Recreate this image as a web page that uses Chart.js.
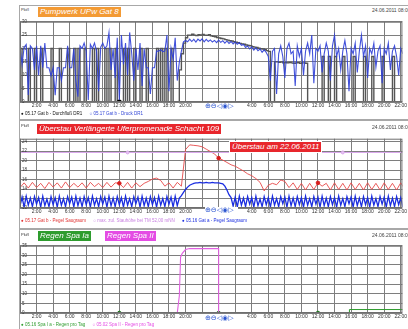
<!DOCTYPE html>
<html>
<head>
<meta charset="utf-8">
<script src="https://cdn.jsdelivr.net/npm/chart.js@4.4.0/dist/chart.umd.min.js"></script>
<style>
html, body { margin: 0; padding: 0; background: #fff; width: 408px; height: 329px; overflow: hidden;
  font-family: "Liberation Sans", Arial, sans-serif; }
.hline { position: absolute; left: 19px; width: 389px; background: #a8a8a8; }
.vline { position: absolute; left: 19px; width: 1px; background: #a8a8a8; }
.tag { position: absolute; color: #fff; font-style: italic; font-size: 8px; line-height: 10px; height: 10px; padding: 0 2px; white-space: nowrap; }
.unit { position: absolute; left: 21px; font-size: 4px; color: #333; }
.date { position: absolute; left: 372px; font-size: 5px; color: #444; white-space: nowrap; }
.legend { position: absolute; left: 21px; font-size: 4.5px; white-space: nowrap; }
.legend span { margin-right: 6px; }
.zoomico { position: absolute; left: 205px; width: 33px; font-size: 7px; line-height: 7px; color: #2b55d0; background: #fff;
  font-family: "DejaVu Sans", sans-serif; white-space: nowrap; }
.box { position: absolute; left: 19px; width: 389px; }
</style>
</head>
<body>
<!-- frames -->
<div class="hline" style="top:5px;height:1px"></div>
<div class="hline" style="top:119px;height:2px"></div>
<div class="hline" style="top:228px;height:2px"></div>
<div class="vline" style="top:5px;height:324px"></div>

<!-- panel 1 -->
<div class="unit" style="top:7px">Pkt/l</div>
<div class="tag" style="left:38px;top:7px;background:#f39a34">Pumpwerk UPw Gat 8</div>
<div class="date" style="top:7px">24.06.2011 08:00</div>
<div class="box" style="top:17px;height:93px"><canvas id="pumpChart"></canvas></div>
<div class="zoomico" style="top:103px">&#8853;&#8854;&#9665;&#9673;&#9655;</div>
<div class="legend" style="top:111px">
  <span style="color:#111">&#9679; 05.17 Gat b - Durchflu&szlig; DR1</span>
  <span style="color:#3346d6">&#9675; 05.17 Gat b - Druck DR1</span>
</div>

<!-- panel 2 -->
<div class="unit" style="top:123px">Pkt/l</div>
<div class="tag" style="left:37px;top:124px;background:#e8262c">&Uuml;berstau Verl&auml;ngerte Uferpromenade Schacht 109</div>
<div class="date" style="top:124px">24.06.2011 08:00</div>
<div class="box" style="top:134px;height:82px"><canvas id="levelChart"></canvas></div>
<div class="tag" style="left:230px;top:142px;background:#e8262c;outline:1px solid #fff">&Uuml;berstau am 22.06.2011</div>
<div class="zoomico" style="top:207px">&#8853;&#8854;&#9665;&#9673;&#9655;</div>
<div class="legend" style="top:218px">
  <span style="color:#e03030">&#9679; 05.17 Gat b - Pegel Saugraum</span>
  <span style="color:#c77ee0">&#9675; max. zul. Stauh&ouml;he bei TM 52,00 mNN</span>
  <span style="color:#1a2de0">&#9679; 05.16 Gat a - Pegel Saugraum</span>
</div>

<!-- panel 3 -->
<div class="unit" style="top:232px">Pkt/l</div>
<div class="tag" style="left:38px;top:231px;background:#2e9c2e">Regen Spa Ia</div>
<div class="tag" style="left:105px;top:231px;background:#e44ce4">Regen Spa II</div>
<div class="date" style="top:232px">24.06.2011 08:00</div>
<div class="box" style="top:241px;height:80px"><canvas id="rainChart"></canvas></div>
<div class="zoomico" style="top:315px">&#8853;&#8854;&#9665;&#9673;&#9655;</div>
<div class="legend" style="top:322px">
  <span style="color:#2e9c2e">&#9679; 05.16 Spa I a - Regen pro Tag</span>
  <span style="color:#e44ce4">&#9675; 05.02 Spa II - Regen pro Tag</span>
</div>

<script>
// time axis: hours since 22.06 0:00, two days, right end cut off
const X_MAX = 46.2;
const HIDDEN_TICKS = [0, 22, 24, 26];
const MARK_HOURS = [12, 24, 36];
const FLOW_MARK_HOURS = [12];

// panel 1, every 15 min
const flowDR1 = [
  0,20,0,0,0,20,0,0,20,0,
  0,20,0,0,0,0,20,0,0,0,
  20,0,0,0,20,0,0,20,0,20,
  0,0,20,0,0,0,20,0,20,0,
  0,0,20,0,20,0,0,20,0,0,
  0,20,0,20,0,0,20,0,0,20,
  0,0,20,0,0,0,0,20,0,20,
  0,20,0,0,20,0,0,0,12,18,
  22,24,25,25,25.3,25,24.8,25.1,25,25.2,
  25,24.9,25.1,24.7,24.5,24.4,24.1,23.9,23.7,23.6,
  23.3,23.1,22.9,22.8,22.5,22.3,22.2,21.9,21.7,21.6,
  21.3,21.1,21,20.7,20.5,20.4,20.1,19.9,19.8,19.5,
  19.2,18.9,0,0,15,15,14.8,15,14.6,14.7,
  14.6,14.8,14.6,14.5,14.6,14.7,14.5,14.6,14.6,14.5,
  0,0,0,0,0,0,0,17,0,0,
  17,0,0,17,0,0,0,17,0,0,
  0,0,17,0,0,0,0,17,0,0,
  0,17,0,0,0,0,17,0,0,0,
  0,17,0,0,0,0,17
];
const pressureDR1 = [
  21,14,20.5,21.5,2.6,21,20,12,21,10,
  21,12.8,22,12.8,12.8,9.8,12.8,2.5,12.8,12.8,
  8,12.8,12.8,21,12.8,12.8,20,8,2,21,
  20,22,19,0.8,21.5,20,22,19,4,20.5,
  22,20,21,26,12,20,9,24,0.8,25,
  14,22,10,26,18,8,20,12,22,6,
  20,12.8,12.8,3,12.8,12.8,19,19,19.5,18.8,
  19,25,4,20,16,24,8,15,19,22.5,
  23,22.5,23.5,22.6,23.4,22.4,23.5,22.8,23.6,22.5,
  23.4,22.6,23.2,22.4,23,22.2,23.1,22.3,22.9,22,
  22.8,21.9,22.6,21.7,22.4,21.6,22.2,21.2,21.5,20.4,
  20.9,19.8,20.6,19.4,20.2,19.2,19.8,18.6,19.5,18.5,
  17,8,19,20,3,18,21,17,9,20,
  22,18,19,6,21,17,20,10,19,22,
  18,25,7,20,19,21,11,18,22,19,
  8,21,25,17,20,12,19,23,18,4,
  20,18,22,11,19,25,17,21,9,20,
  18,22,13,19,21,7,20,18,22,12,
  19,21,17,10,20,18,21
];

// panel 2
const levelGatB = [ // every 30 min
  14.3,15.3,14.2,15.4,14.3,15.2,14.1,15.4,14.4,15.3,
  14.2,15.5,14.3,15.2,14.4,15.3,14.2,15.4,14.5,15.2,
  14.3,15.4,14.4,15.3,15.2,14.3,15.4,14.2,15.3,14.5,
  15.2,15.6,16.1,16.3,15.8,14.6,15.3,14.2,15.4,14.6,
  22.3,23.3,23.2,23.1,22.9,22.4,21.9,21.4,20.5,20.1,
  19.6,19.1,18.8,18.3,17.8,17.2,16.8,16.2,15.4,13.6,
  14.8,15.2,14.9,15.9,15.6,14.3,15.3,13.9,15.2,13.8,
  15.2,13.9,15.3,14.6,15.2,13.8,15.3,13.9,15.2,13.8,
  15.3,13.9,15.2,13.8,15.3,13.9,15.2,13.8,15.3,13.9,
  15.2,13.8,15.3,13.9
];
const maxLevelHours = [0, 13, 39, 46.5];
const maxLevelValues = [21.7, 21.7, 21.7, 21.7];
const levelGatA = [ // every 15 min
  10.4,12.3,10.2,12.5,10.6,12.1,10.3,12.4,10.8,12.2,
  10.2,12.5,10.5,11.9,10.3,12.4,10.7,12.2,10.2,12.5,
  10.6,12.0,10.3,12.4,10.9,12.3,10.2,12.5,10.5,12.1,
  10.3,12.4,10.7,12.2,10.2,12.5,10.6,12.0,10.3,12.4,
  10.8,12.3,10.2,12.5,10.5,12.1,10.3,12.4,10.7,12.2,
  10.2,12.5,10.6,12.0,10.3,12.4,10.9,12.3,10.2,12.5,
  10.5,12.1,10.3,12.4,10.7,12.2,10.2,12.5,10.6,12.0,
  10.3,12.4,10.8,12.3,10.2,12.5,10.5,12.1,12.6,13.3,
  13.9,14.4,14.8,15.0,15.2,15.3,15.3,15.4,15.3,15.3,
  15.4,15.3,15.3,15.4,15.3,15.3,15.3,15.2,15.1,14.6,
  13.8,12.8,12.2,10.4,12.3,10.2,12.5,10.6,12.1,10.3,
  12.4,10.8,12.2,10.2,12.5,10.5,11.9,10.3,12.4,10.7,
  12.2,10.2,12.5,10.6,12.0,10.3,12.4,10.9,12.3,10.2,
  12.5,10.5,12.1,10.3,12.4,10.7,12.2,10.2,12.5,10.6,
  12.0,10.3,12.4,10.8,12.3,10.2,12.5,10.5,12.1,10.3,
  12.4,10.7,12.2,10.2,12.5,10.6,12.0,10.3,12.4,10.9,
  12.3,10.2,12.5,10.5,12.1,10.3,12.4,10.7,12.2,10.2,
  12.5,10.6,12.0,10.3,12.4,10.8,12.3,10.2,12.5,10.5,
  12.1,10.3,12.4,10.7,12.2,10.2,12.5
];

// panel 3
const rainIaHours = [0, 12, 24, 36, 39.8, 39.8, 46.5];
const rainIaValues = [0, 0, 0, 0, 0, 1.8, 1.8];
const rainIIHours = [0, 19, 19.25, 19.4, 19.6, 20, 20.5, 24, 24, 46.5];
const rainIIValues = [0, 0, 9, 29, 31, 33, 33.5, 33.5, 0, 0];

function series(values, step) {
  return values.map((v, i) => ({ x: i * step, y: v }));
}
function pairs(hours, values) {
  return hours.map((h, i) => ({ x: h, y: values[i] }));
}
const markAt = hours => ctx => (ctx.raw && hours.includes(ctx.raw.x) ? 1.8 : 0);

// thin frame round the plot area
const plotFrame = {
  id: 'plotFrame',
  afterDraw(chart) {
    const { ctx, chartArea: a } = chart;
    ctx.save();
    ctx.strokeStyle = '#6e6e6e';
    ctx.lineWidth = 1;
    ctx.strokeRect(a.left + 0.5, a.top + 0.5, a.width - 1, a.height - 1);
    ctx.restore();
  }
};

function timeChart(id, datasets, yMin, yMax, yStep) {
  return new Chart(document.getElementById(id), {
    type: 'line',
    data: { datasets },
    options: {
      animation: false,
      responsive: true,
      maintainAspectRatio: false,
      layout: { padding: { left: 1, right: 0, top: 3, bottom: 0 } },
      plugins: { legend: { display: false }, tooltip: { enabled: false } },
      elements: { line: { tension: 0 }, point: { radius: 0 } },
      scales: {
        x: {
          type: 'linear', min: 0, max: X_MAX,
          afterFit: s => { s.height = 8; },
          border: { display: false },
          grid: { color: '#7e7e7e', lineWidth: 1, drawTicks: false },
          ticks: {
            stepSize: 2, autoSkip: false, includeBounds: false, padding: 1, maxRotation: 0,
            color: '#333', font: { size: 5, family: 'Liberation Sans' },
            callback: v => (HIDDEN_TICKS.includes(v) ? '' : (v % 24) + ':00')
          }
        },
        y: {
          min: yMin, max: yMax,
          afterFit: s => { s.width = 0; },
          border: { display: false },
          grid: { color: '#7e7e7e', lineWidth: 1, drawTicks: false },
          ticks: {
            stepSize: yStep, includeBounds: false, mirror: true, padding: 2,
            color: '#333', font: { size: 4.5, family: 'Liberation Sans' }
          }
        }
      }
    },
    plugins: [plotFrame]
  });
}

timeChart('pumpChart', [
  {
    label: '05.17 Gat b - Druck DR1', data: series(pressureDR1, 0.25),
    borderColor: 'rgba(45,62,214,0.9)', borderWidth: 1.1
  },
  {
    label: '05.17 Gat b - Durchfluß DR1', data: series(flowDR1, 0.25), stepped: 'after',
    borderColor: '#555', borderWidth: 1.4,
    pointRadius: markAt(FLOW_MARK_HOURS), pointBackgroundColor: '#000', pointBorderColor: '#000'
  }
], 0, 30, 5);

timeChart('levelChart', [
  {
    label: 'max. zul. Stauhöhe bei TM 52,00 mNN', data: pairs(maxLevelHours, maxLevelValues),
    borderColor: '#d9a6ec', borderWidth: 1,
    pointRadius: ctx => (ctx.dataIndex === 1 || ctx.dataIndex === 2 ? 1.5 : 0),
    pointBackgroundColor: '#e6c6f2', pointBorderColor: '#d9a6ec'
  },
  {
    label: '05.16 Gat a - Pegel Saugraum', data: series(levelGatA, 0.25),
    borderColor: '#1a2de0', borderWidth: 1.3
  },
  {
    label: '05.17 Gat b - Pegel Saugraum', data: series(levelGatB, 0.5),
    borderColor: '#e64848', borderWidth: 0.9,
    pointRadius: markAt(MARK_HOURS), pointBackgroundColor: '#d81c1c', pointBorderColor: '#d81c1c'
  }
], 10, 24.6, 2);

timeChart('rainChart', [
  {
    label: '05.02 Spa II - Regen pro Tag', data: pairs(rainIIHours, rainIIValues),
    borderColor: '#e060e0', borderWidth: 1.1
  },
  {
    label: '05.16 Spa I a - Regen pro Tag', data: pairs(rainIaHours, rainIaValues),
    borderColor: '#2e9c2e', borderWidth: 1,
    pointRadius: markAt(MARK_HOURS), pointBackgroundColor: '#1f7a1f', pointBorderColor: '#1f7a1f'
  }
], 0, 35, 5);
</script>
</body>
</html>
